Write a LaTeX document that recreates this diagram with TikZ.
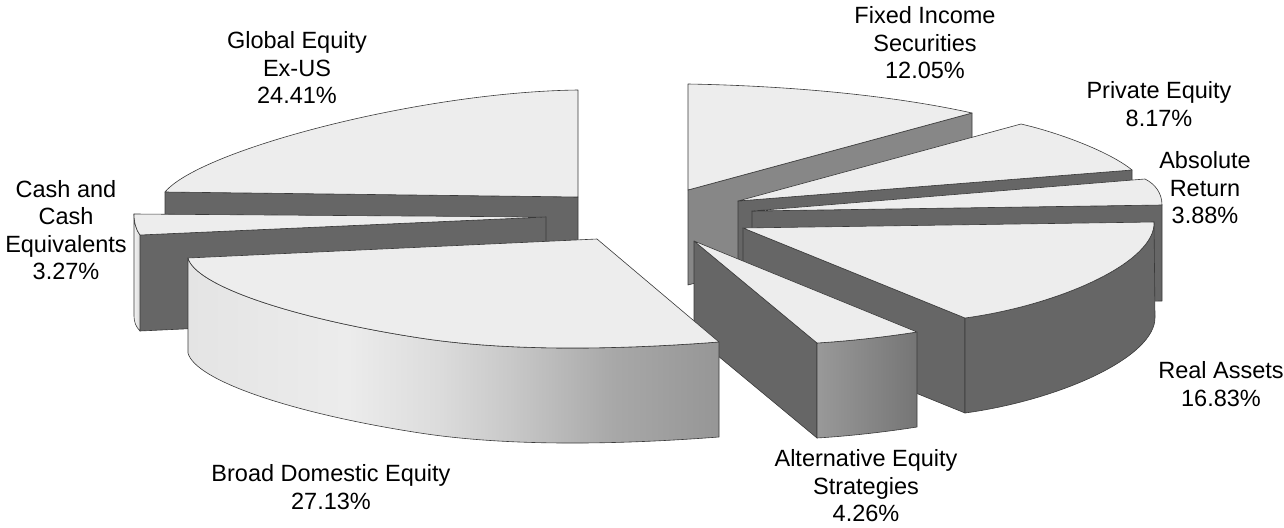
\documentclass[tikz,border=0pt]{standalone}
\usepackage{fontspec}
\setmainfont{Liberation Sans}
\definecolor{topc}{HTML}{EDEDED}
\definecolor{darkc}{HTML}{666666}
\definecolor{fic}{HTML}{878787}
\definecolor{edgec}{HTML}{3A3A3A}
\definecolor{bdA}{HTML}{E4E4E4}
\definecolor{bdB}{HTML}{ECECEC}
\definecolor{bdC}{HTML}{DCDCDC}
\definecolor{bdD}{HTML}{C8C8C8}
\definecolor{bdE}{HTML}{A8A8A8}
\definecolor{bdF}{HTML}{969696}
\pgfdeclarehorizontalshading{bdshade}{100bp}{color(0bp)=(bdA); color(25bp)=(bdA); color(40bp)=(bdB); color(48.5bp)=(bdC); color(55.5bp)=(bdD); color(65bp)=(bdE); color(75bp)=(bdF); color(100bp)=(bdF)}
\tikzset{
  face/.style={draw=edgec, line width=0.6pt, line join=round},
  topface/.style={face, fill=topc},
  darkface/.style={face, fill=darkc},
  fiface/.style={face, fill=fic},
  lbl/.style={font=\fontsize{23.5}{27.5}\selectfont, align=center, inner sep=0pt, text=black}
}
\begin{document}
\begin{tikzpicture}[x=1pt,y=-1pt]
\useasboundingbox (0,0) rectangle (1284,527);
% Global Equity Ex-US
\path[darkface] (165,192) -- (578,197) -- (578,292) -- (165,287) -- cycle;
\path[topface] (578,197) -- (578,90) .. controls (420,92) and (200,150) .. (165,192) -- cycle;
% Cash and Cash Equivalents
\path[darkface] (140,235) -- (546,217) -- (546,312) -- (140,331) -- cycle;
\path[face, left color=white!95!black, right color=white!85!black] (134,214) .. controls (134,222) and (136,230) .. (140,235) -- (140,331) .. controls (136,327) and (134,322) .. (134,316) -- cycle;
\path[topface] (546,217) -- (134,214) .. controls (134,222) and (136,230) .. (140,235) -- cycle;
% Fixed Income Securities
\path[fiface] (688,190) -- (972,113) -- (972,208) -- (688,285) -- cycle;
\path[topface] (688,190) -- (688,84) .. controls (800,86) and (900,97) .. (972,113) -- cycle;
% Private Equity
\path[darkface] (738,201) -- (1132,170) -- (1132,265) -- (738,296) -- cycle;
\path[topface] (738,201) -- (1021,124) .. controls (1060,133) and (1110,152) .. (1132,170) -- cycle;
% Absolute Return
\path[darkface] (752,211) -- (1162,205) -- (1162,301) -- (752,306) -- cycle;
\path[topface] (752,211) -- (1145,179) .. controls (1155,184) and (1162,193) .. (1162,205) -- cycle;
% Real Assets
\path[darkface] (743,228) -- (965,318) -- (965,413) -- (743,323) -- cycle;
\path[darkface] (1154,222) .. controls (1156,262) and (1060,305) .. (965,318) -- (965,413) .. controls (1060,400) and (1156,357) .. (1155,317) -- cycle;
\path[topface] (743,228) -- (1154,222) .. controls (1156,262) and (1060,305) .. (965,318) -- cycle;
% Alternative Equity Strategies
\path[darkface] (694,241) -- (817,343) -- (817,438) -- (694,336) -- cycle;
\path[face, left color=white!60!black, right color=white!46!black] (817,343) .. controls (850,341) and (885,337) .. (917,332) -- (917,427) .. controls (885,432) and (850,436) .. (817,438) -- cycle;
\path[topface] (694,241) -- (917,332) .. controls (885,337) and (850,341) .. (817,343) -- cycle;
% Broad Domestic Equity
\path[face, shading=bdshade] (188,258) .. controls (195,285) and (290,318) .. (420,338) .. controls (520,353.4) and (640,348) .. (719,342) -- (719,437) .. controls (640,443) and (520,448.4) .. (420,433) .. controls (290,413) and (195,380) .. (188,353) -- cycle;
\path[topface] (597,239) -- (188,258) .. controls (195,285) and (290,318) .. (420,338) .. controls (520,353.4) and (640,348) .. (719,342) -- cycle;
% Labels
\node[lbl] (lblFI) at (925,43) {Fixed Income\\Securities\\12.05\%};
\node[lbl] (lblGE) at (297,68) {Global Equity\\Ex-US\\24.41\%};
\node[lbl] (lblPE) at (1159,104) {Private Equity\\8.17\%};
\node[lbl] (lblAR) at (1205,188) {Absolute\\Return\\3.88\%};
\node[lbl] (lblCA) at (66,230) {Cash and\\Cash\\Equivalents\\3.27\%};
\node[lbl] (lblRA) at (1221,384) {Real Assets\\16.83\%};
\node[lbl] (lblAE) at (866,486) {Alternative Equity\\Strategies\\4.26\%};
\node[lbl] (lblBD) at (331,487) {Broad Domestic Equity\\27.13\%};
\end{tikzpicture}
\end{document}
